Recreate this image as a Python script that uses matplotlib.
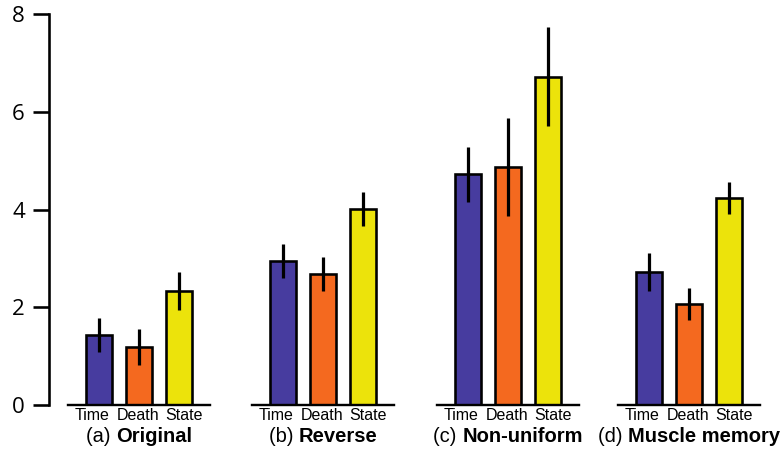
import matplotlib
matplotlib.use("Agg")
import matplotlib.pyplot as plt
import matplotlib.transforms as mtransforms
from matplotlib.offsetbox import TextArea, HPacker, AnchoredOffsetbox

# data
conditions = ["Time", "Death", "State"]
panel_tags = ["(a)", "(b)", "(c)", "(d)"]
panel_names = ["Original", "Reverse", "Non-uniform", "Muscle memory"]
means = [
    [1.43, 1.19, 2.33],
    [2.94, 2.68, 4.01],
    [4.72, 4.87, 6.72],
    [2.72, 2.07, 4.23],
]
errs = [
    [0.35, 0.37, 0.39],
    [0.35, 0.35, 0.35],
    [0.56, 1.01, 1.01],
    [0.39, 0.33, 0.33],
]
yticks = [0, 2, 4, 6, 8]

_COLORS = ["#473c9f", "#f4691f", "#ece30b"]

W, H = 781, 450
PT = 72 / 100  # points per pixel at dpi 100
fig = plt.figure(figsize=(W / 100, H / 100), dpi=100)

lefts = [68, 252, 437, 618]   # pixel left edge of each group axis
width = 142
bottom, top = 405, 14
label_shift = [-7, -1.5, 5]   # px nudge so the tick labels don't touch

for i, left in enumerate(lefts):
    ax = fig.add_axes([left / W, 1 - bottom / H, width / W, (bottom - top) / H])
    x = range(len(conditions))
    ax.bar(x, means[i], width=0.65, color=_COLORS, edgecolor="black",
           linewidth=2.6 * PT, zorder=2)
    ax.errorbar(x, means[i], yerr=errs[i], fmt="none", ecolor="black",
                elinewidth=3.2 * PT, capsize=0, zorder=3)
    ax.set_xlim(-0.78, 2.77)
    ax.set_ylim(0, 8)
    ax.set_xticks(list(x))
    ax.set_xticklabels(conditions, family="Liberation Sans", fontsize=11.5)
    ax.tick_params(axis="x", length=0, pad=2)
    for lab, dx in zip(ax.get_xticklabels(), label_shift):
        lab.set_transform(lab.get_transform() + mtransforms.ScaledTranslation(
            dx / 100, 0, fig.dpi_scale_trans))
    for s in ("top", "right"):
        ax.spines[s].set_visible(False)
    ax.spines["bottom"].set_linewidth(2.4 * PT)
    if i == 0:
        ax.spines["left"].set_position(("outward", 19 * PT))
        ax.spines["left"].set_linewidth(2.6 * PT)
        ax.set_yticks(yticks)
        ax.set_yticklabels([str(v) for v in yticks], family="Open Sans",
                           fontsize=16)
        ax.tick_params(axis="y", length=16 * PT, width=2.6 * PT, pad=8 * PT)
    else:
        ax.spines["left"].set_visible(False)
        ax.set_yticks([])

    # subtitle: normal tag + bold name
    tag = TextArea(panel_tags[i] + " ", textprops=dict(
        family="Liberation Sans", fontsize=14.5))
    name = TextArea(panel_names[i], textprops=dict(
        family="Liberation Sans", fontsize=14.5, fontweight="bold"))
    box = HPacker(children=[tag, name], align="baseline", pad=0, sep=0)
    anch = AnchoredOffsetbox(loc="upper center", child=box, frameon=False,
                             bbox_to_anchor=(0.5, -0.055),
                             bbox_transform=ax.transAxes, borderpad=0, pad=0)
    ax.add_artist(anch)

fig.savefig("out.png", dpi=100)
